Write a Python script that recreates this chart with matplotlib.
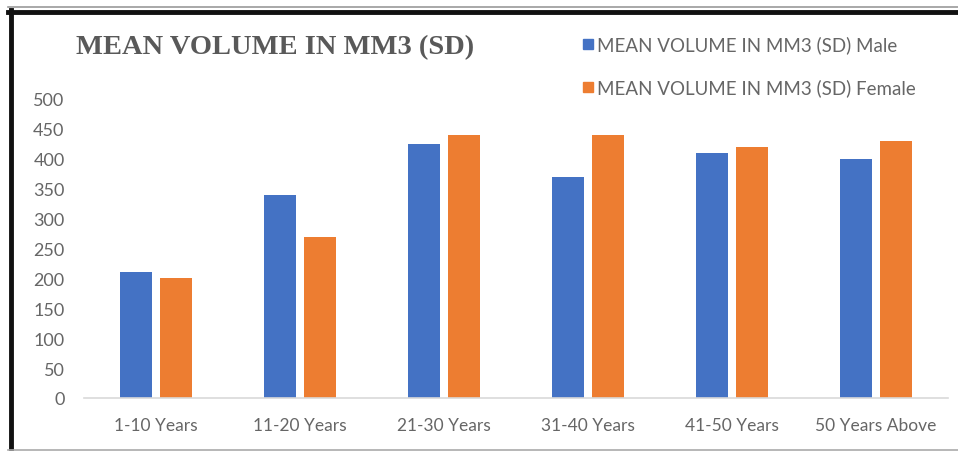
import matplotlib
matplotlib.use("Agg")
import matplotlib.pyplot as plt
from matplotlib.lines import Line2D
from matplotlib.patches import Rectangle
import numpy as np

categories = ["1-10 Years", "11-20 Years", "21-30 Years", "31-40 Years", "41-50 Years", "50 Years Above"]
male = [210, 340, 425, 370, 410, 400]
female = [200, 270, 440, 440, 420, 430]
yticks = [0, 50, 100, 150, 200, 250, 300, 350, 400, 450, 500]
series_names = ["MEAN VOLUME IN MM3 (SD) Male", "MEAN VOLUME IN MM3 (SD) Female"]
title = "MEAN VOLUME IN MM3 (SD)"

W, H = 958, 452
fig = plt.figure(figsize=(W / 100, H / 100), dpi=100)
fig.patch.set_facecolor("white")

def fx(px):
    return px / W

def fy(py):
    return 1 - py / H

ax = fig.add_axes([fx(84), fy(399), fx(948) - fx(84), fy(100) - fy(399)])
x = np.arange(len(categories))
bw = 0.222
off = 0.139
blue = "#4472C4"
orange = "#ED7D31"
ax.bar(x - off, male, bw, color=blue)
ax.bar(x + off, female, bw, color=orange)
ax.set_xlim(-0.5, len(categories) - 0.5)
ax.set_ylim(0, 500)
ax.set_yticks(yticks)
ax.set_xticks(x)
ax.set_xticklabels(categories)
for s in ["top", "right", "left"]:
    ax.spines[s].set_visible(False)
ax.spines["bottom"].set_color("#d9d9d9")
ax.spines["bottom"].set_linewidth(1.2)
ax.tick_params(axis="both", length=0, colors="#666666")
ax.tick_params(axis="y", pad=14, labelsize=13)
ax.tick_params(axis="x", pad=14, labelsize=12.5)
for lab in ax.get_xticklabels() + ax.get_yticklabels():
    lab.set_fontfamily("Lato")
for lab in ax.get_yticklabels():
    lab.set_horizontalalignment("right")

fig.text(fx(275), fy(48), title, ha="center", va="center", fontsize=20.5,
         fontweight="bold", family="Liberation Serif", color="#595959")

# legend
for i, (name, col) in enumerate(zip(series_names, [blue, orange])):
    yc = 45 + i * 43
    fig.patches.append(Rectangle((fx(583), fy(yc + 5)), fx(10), fy(yc - 5) - fy(yc + 5),
                                 transform=fig.transFigure, color=col))
    fig.text(fx(597), fy(yc), name, ha="left", va="center", fontsize=13.5,
             family="Lato", color="#666666")

# frame
fig.lines.append(Line2D([fx(8), 1], [fy(8), fy(8)], transform=fig.transFigure, color="#9a9a9a", lw=1.2))
fig.lines.append(Line2D([fx(8), 1], [fy(13), fy(13)], transform=fig.transFigure, color="#111111", lw=3.5))
fig.lines.append(Line2D([fx(10.5), fx(10.5)], [fy(11), 0], transform=fig.transFigure, color="#111111", lw=3.5))
fig.lines.append(Line2D([fx(8), 1], [fy(451), fy(451)], transform=fig.transFigure, color="#aaaaaa", lw=1.2))

fig.savefig("out.png", dpi=100)
